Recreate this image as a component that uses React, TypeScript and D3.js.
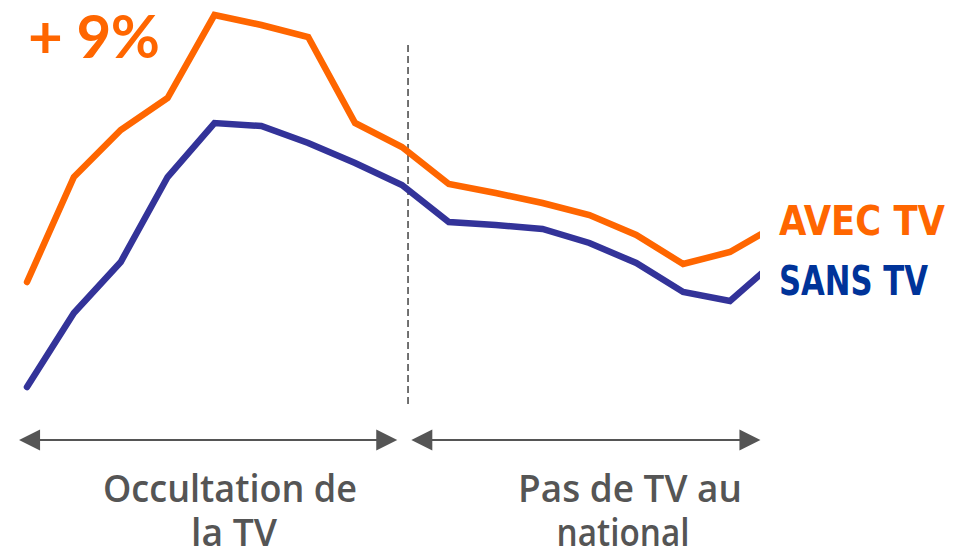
import React from "react";
import * as d3 from "d3";

// Periods (index of observation) and audience index values (arbitrary units)
const periods = d3.range(17);
const avecTV = [118, 223, 270, 302, 385, 375, 363, 277, 253, 216, 207, 197, 185, 165, 136, 148, 175];
const sansTV = [13, 87, 138, 223, 277, 274, 257, 237, 215, 178, 175, 171, 157, 137, 108, 99, 140];
const seriesLabels = ["AVEC TV", "SANS TV"];
const phaseLabels = [["Occultation de", "la TV"], ["Pas de TV au", "national"]];
const phaseRanges = [[-0.17, 7.9], [8.2, 15.65]];
const splitAt = 8.13;
const gainLabel = "+ 9%";

const W = 962;
const H = 547;

const labelWidths = [[254, 86], [224, 133]];
const labelCenters = [[230, 234], [630, 623]];

export default function App() {
  const x = d3.scaleLinear().domain([0, 15]).range([27, 730]);
  const y = d3.scaleLinear().domain([0, 400]).range([400, 0]);
  const line = d3
    .line<number>()
    .x((_, i) => x(periods[i]))
    .y((d) => y(d));

  const orange = "#FF6600";
  const blue = "#333399";
  const gray = "#555555";
  const arrowY = 440;
  const narrow = "'DejaVu Sans Condensed', 'Liberation Sans', sans-serif";

  return (
    <svg
      width={W}
      height={H}
      style={{ position: "absolute", left: 0, top: 0, background: "#fff" }}
    >
      <defs>
        <clipPath id="plotClip">
          <rect x={0} y={0} width={760} height={H} />
        </clipPath>
      </defs>

      {/* divider */}
      <line
        x1={x(splitAt)}
        x2={x(splitAt)}
        y1={45}
        y2={406}
        stroke="#444"
        strokeWidth={1.5}
        strokeDasharray="7,4"
      />

      <g clipPath="url(#plotClip)">
        <path d={line(avecTV) || ""} fill="none" stroke={orange} strokeWidth={6.5} strokeLinecap="round" />
        <path d={line(sansTV) || ""} fill="none" stroke={blue} strokeWidth={6.5} strokeLinecap="round" />
      </g>

      <text
        x={28}
        y={58}
        fill={orange}
        fontFamily="Lato, 'Open Sans', sans-serif"
        fontWeight={700}
        fontSize={60}
        textLength={132}
      >
        {gainLabel}
      </text>

      <text
        x={779}
        y={235}
        fill={orange}
        fontFamily={narrow}
        fontWeight={700}
        fontSize={41}
        textLength={166}
        lengthAdjust="spacingAndGlyphs"
      >
        {seriesLabels[0]}
      </text>
      <text
        x={779}
        y={295}
        fill="#003399"
        fontFamily={narrow}
        fontWeight={700}
        fontSize={41}
        textLength={149}
        lengthAdjust="spacingAndGlyphs"
      >
        {seriesLabels[1]}
      </text>

      {phaseRanges.map(([a, b], i) => {
        const x0 = x(a);
        const x1 = x(b);
        const hw = 21;
        const hh = 10.5;
        return (
          <g key={i}>
            <line x1={x0 + hw - 2} x2={x1 - hw + 2} y1={arrowY} y2={arrowY} stroke={gray} strokeWidth={2} />
            <path d={`M${x0},${arrowY} L${x0 + hw},${arrowY - hh} L${x0 + hw},${arrowY + hh} Z`} fill={gray} />
            <path d={`M${x1},${arrowY} L${x1 - hw},${arrowY - hh} L${x1 - hw},${arrowY + hh} Z`} fill={gray} />
            {phaseLabels[i].map((t, j) => (
              <text
                key={j}
                x={labelCenters[i][j] - labelWidths[i][j] / 2}
                y={502 + j * 44}
                fill={gray}
                fontFamily="'Open Sans', sans-serif"
                fontWeight={600}
                fontSize={37}
                textLength={labelWidths[i][j]}
                lengthAdjust="spacingAndGlyphs"
              >
                {t}
              </text>
            ))}
          </g>
        );
      })}
    </svg>
  );
}
